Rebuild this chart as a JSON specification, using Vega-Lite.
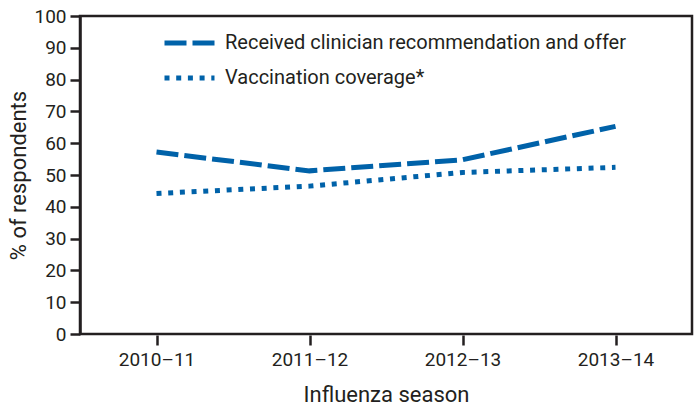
{
  "$schema": "https://vega.github.io/schema/vega-lite/v6.json",
  "width": 612,
  "height": 318,
  "autosize": {"type": "none"},
  "padding": {"left": 80, "top": 16, "right": 8, "bottom": 74},
  "background": "white",
  "config": {
    "font": "Roboto",
    "view": {"stroke": "#231f20", "strokeWidth": 2.5},
    "axis": {"labelColor": "#231f20", "titleColor": "#231f20", "tickColor": "#231f20", "domainColor": "#231f20", "labelFont": "Roboto", "titleFont": "Roboto", "titleFontWeight": "normal", "grid": false}
  },
  "data": {
    "values": [
      {"season": "2010–11", "series": "Received clinician recommendation and offer", "value": 57.2},
      {"season": "2011–12", "series": "Received clinician recommendation and offer", "value": 51.3},
      {"season": "2012–13", "series": "Received clinician recommendation and offer", "value": 54.8},
      {"season": "2013–14", "series": "Received clinician recommendation and offer", "value": 65.3},
      {"season": "2010–11", "series": "Vaccination coverage*", "value": 44.2},
      {"season": "2011–12", "series": "Vaccination coverage*", "value": 46.5},
      {"season": "2012–13", "series": "Vaccination coverage*", "value": 50.8},
      {"season": "2013–14", "series": "Vaccination coverage*", "value": 52.4}
    ]
  },
  "mark": {"type": "line", "color": "#0062a9", "strokeWidth": 5, "interpolate": "linear"},
  "encoding": {
    "x": {
      "field": "season", "type": "ordinal",
      "scale": {"type": "point", "padding": 0.5},
      "axis": {"title": "Influenza season", "labelAngle": 0, "labelFontSize": 19, "titleFontSize": 22, "domain": false, "tickSize": 10, "tickWidth": 2.5, "offset": 1, "labelPadding": 5, "titlePadding": 15}
    },
    "y": {
      "field": "value", "type": "quantitative",
      "scale": {"domain": [0, 100]},
      "axis": {"title": "% of respondents", "values": [0,10,20,30,40,50,60,70,80,90,100], "labelFontSize": 19, "titleFontSize": 22, "domainWidth": 2.5, "tickSize": 10, "tickWidth": 2.5, "labelPadding": 4, "titlePadding": 3}
    },
    "strokeDash": {
      "field": "series", "type": "nominal",
      "scale": {"domain": ["Received clinician recommendation and offer", "Vaccination coverage*"], "range": [[22, 6], [5, 6.7]]},
      "legend": {"title": null, "orient": "none", "legendX": 82, "legendY": 14, "symbolType": "stroke", "symbolSize": 2500, "symbolStrokeWidth": 5, "symbolStrokeColor": "#0062a9", "labelFontSize": 20, "labelColor": "#231f20", "labelFont": "Roboto", "labelLimit": 500, "clipHeight": 26, "rowPadding": 9, "labelOffset": 8}
    }
  }
}
